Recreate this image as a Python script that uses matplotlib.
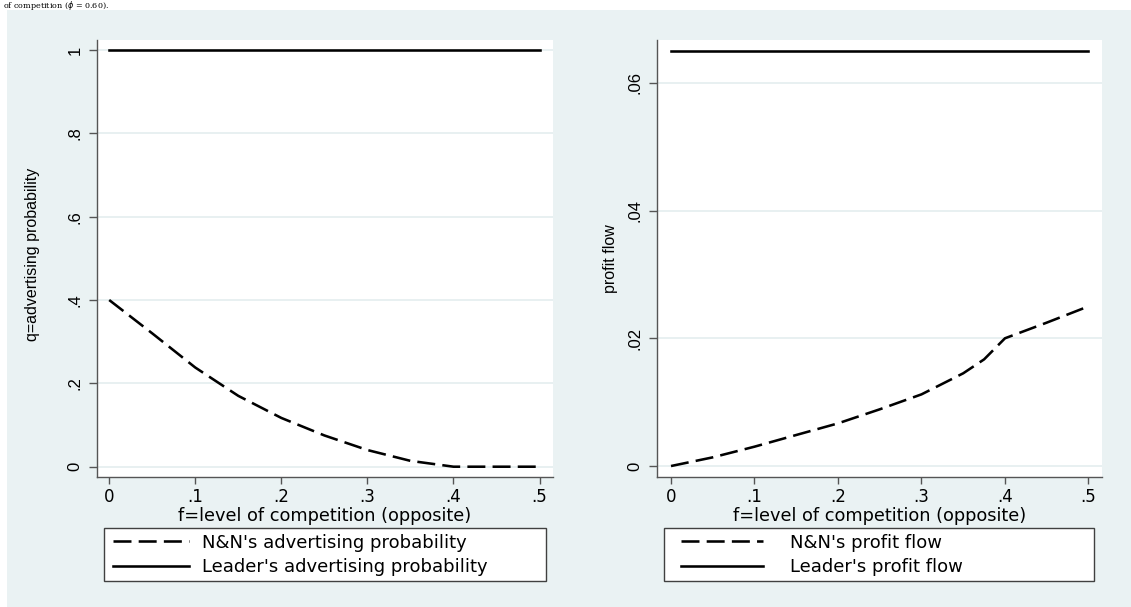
import matplotlib
matplotlib.use('Agg')
import matplotlib.pyplot as plt
from matplotlib.patches import Rectangle
from matplotlib.lines import Line2D

# ---------------- data ----------------
f_left = [0.0, 0.05, 0.10, 0.15, 0.20, 0.25, 0.30, 0.35, 0.40, 0.45, 0.50]
nn_adv_prob = [0.400, 0.320, 0.238, 0.170, 0.117, 0.075, 0.040, 0.014, 0.0, 0.0, 0.0]
leader_adv_prob = [1.0, 1.0, 1.0, 1.0, 1.0, 1.0, 1.0, 1.0, 1.0, 1.0, 1.0]

f_right = [0.0, 0.05, 0.10, 0.15, 0.20, 0.25, 0.30, 0.35, 0.375, 0.40, 0.45, 0.50]
nn_profit = [0.0, 0.00136, 0.00303, 0.00486, 0.00668, 0.00888, 0.01122, 0.01452,
             0.0167, 0.0200, 0.02245, 0.0250]
leader_profit = [0.065, 0.065, 0.065, 0.065, 0.065, 0.065, 0.065, 0.065,
                 0.065, 0.065, 0.065, 0.065]

x_ticks = [0, 0.1, 0.2, 0.3, 0.4, 0.5]
x_tick_labels = ['0', '.1', '.2', '.3', '.4', '.5']
y_ticks_left = [0, 0.2, 0.4, 0.6, 0.8, 1.0]
y_tick_labels_left = ['0', '.2', '.4', '.6', '.8', '1']
y_ticks_right = [0, 0.02, 0.04, 0.06]
y_tick_labels_right = ['0', '.02', '.04', '.06']

x_label = 'f=level of competition (opposite)'
y_label_left = 'q=advertising probability'
y_label_right = 'profit flow'
legend_left = ["N&N's advertising probability", "Leader's advertising probability"]
legend_right = ["N&N's profit flow", "Leader's profit flow"]
caption = 'of competition ($\\phi$ = 0.60).'

# ---------------- style ----------------
W, H = 1131, 607
BG = '#eaf2f3'
GRID = '#e4edef'
AX = '#555555'
LW = 1.85
DASH = (7.0, 2.8)
HFONT = 'DejaVu Sans'
VFONT = 'Liberation Sans'

fig = plt.figure(figsize=(W / 100, H / 100), dpi=100)
fig.patch.set_facecolor('white')
fig.add_artist(Rectangle((7 / W, 0), 1 - 7 / W, 1 - 10 / H, transform=fig.transFigure,
                         facecolor=BG, edgecolor='none', zorder=-5))
fig.text(3 / W, 1 - 8.4 / H, caption, family='DejaVu Serif', fontsize=5.8,
         va='baseline', ha='left')


def px_axes(x0, x1, y0, y1):
    return fig.add_axes([x0 / W, 1 - y1 / H, (x1 - x0) / W, (y1 - y0) / H])


def style_axes(ax, yticks, ylabels, ylabel, ylab_x, ylab_y):
    ax.set_facecolor('white')
    for s in ('top', 'right'):
        ax.spines[s].set_visible(False)
    for s in ('left', 'bottom'):
        ax.spines[s].set_color(AX)
        ax.spines[s].set_linewidth(1.0)
    ax.set_xticks(x_ticks)
    ax.set_xticklabels(x_tick_labels, family=HFONT, fontsize=12)
    ax.set_yticks(yticks)
    ax.set_yticklabels(ylabels, family=VFONT, fontsize=12, rotation=90, va='center')
    ax.tick_params(axis='x', length=5, width=1, color=AX, pad=3.3)
    ax.tick_params(axis='y', length=5.8, width=1, color=AX, pad=4.6)
    ax.grid(axis='y', color=GRID, linewidth=1.2)
    ax.set_axisbelow(True)
    ax.set_xlabel(x_label, family=HFONT, fontsize=12.8, labelpad=0.6)
    ax.set_ylabel(ylabel, family=VFONT, fontsize=11.5)
    ax.yaxis.set_label_coords(ylab_x, ylab_y)
    ax.yaxis.label.set_verticalalignment('center')


# left panel
axL = px_axes(97, 553, 40, 476.7)
axL.plot(f_left, nn_adv_prob, color='black', lw=LW, dashes=DASH, zorder=3)
axL.plot(f_left, leader_adv_prob, color='black', lw=LW, zorder=3)
axL.set_xlim(-0.01417, 0.5156)
axL.set_ylim(-0.024, 1.024)
style_axes(axL, y_ticks_left, y_tick_labels_left, y_label_left, (33 - 97) / 456, 0.51)

# right panel
axR = px_axes(657, 1102, 40, 476.7)
axR.plot(f_right, nn_profit, color='black', lw=LW, dashes=DASH, zorder=3)
axR.plot(f_right, leader_profit, color='black', lw=LW, zorder=3)
axR.set_xlim(-0.01677, 0.5162)
axR.set_ylim(-0.00167, 0.0667)
style_axes(axR, y_ticks_right, y_tick_labels_right, y_label_right, (611 - 657) / 445, 0.5)


# legends
def legend_box(x0, x1, y0, y1, hx, hy, labels, hlen, tpad):
    fig.add_artist(Rectangle((x0 / W, 1 - y1 / H), (x1 - x0) / W, (y1 - y0) / H,
                             transform=fig.transFigure, facecolor='white',
                             edgecolor='#404040', linewidth=1.0, zorder=1))
    handles = [Line2D([], [], color='black', lw=LW, dashes=DASH),
               Line2D([], [], color='black', lw=LW)]
    fig.legend(handles, labels, loc='upper left', bbox_to_anchor=(hx / W, 1 - hy / H),
               frameon=False, borderpad=0, borderaxespad=0, handlelength=hlen,
               handletextpad=tpad, labelspacing=0.38,
               prop={'family': HFONT, 'size': 13})


legend_box(104.4, 545.5, 528, 580.7, 112.7, 533.5, legend_left, 4.2, 0.72)
legend_box(664.3, 1094, 528, 580.7, 681, 533.5, legend_right, 4.54, 1.49)

fig.savefig('out.png', dpi=100, facecolor='white')
